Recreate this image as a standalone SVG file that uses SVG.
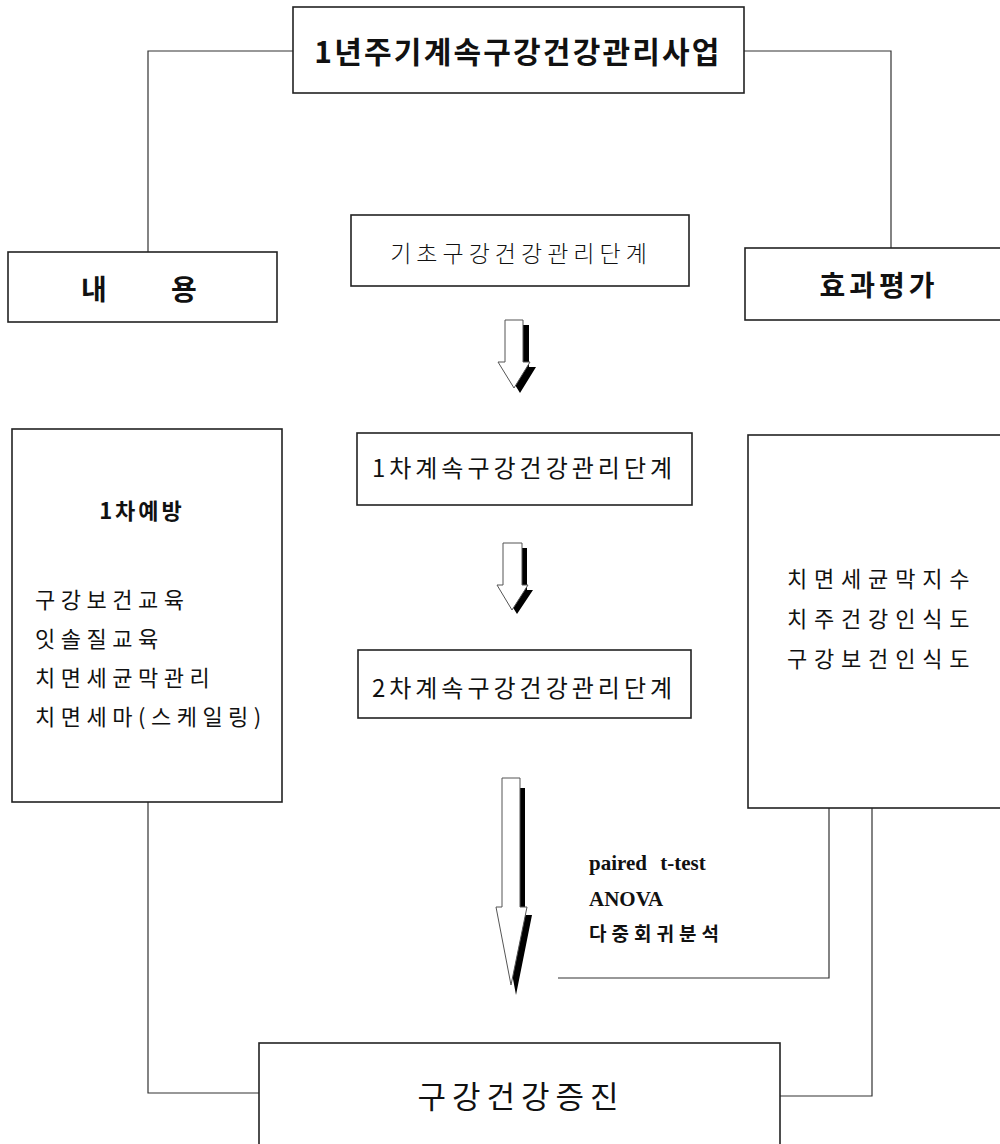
<svg xmlns="http://www.w3.org/2000/svg" width="1000" height="1144" viewBox="0 0 1000 1144">
<style>
.box{fill:#fff;stroke:#222;stroke-width:1.6}
.con{fill:none;stroke:#333;stroke-width:1.2}
.t{font-family:"Noto Sans CJK KR","Noto Sans",sans-serif;fill:#111}
.b{font-weight:bold}
.s{font-family:"Liberation Serif","Noto Sans CJK KR",serif;font-weight:bold;fill:#111}
.ks{font-family:"Noto Sans CJK KR",sans-serif;font-weight:bold;fill:#111}
.sh{fill:#000}
.ar{fill:#fff;stroke:#555;stroke-width:1}
</style>
<rect width="1000" height="1144" fill="#fff"/>
<g id="connectors">
<polyline class="con" points="293,51 148,51 148,252"/>
<polyline class="con" points="744,51 891,51 891,248"/>
<polyline class="con" points="148,802 148,1093 259,1093"/>
<polyline class="con" points="872,808 872,1096 780,1096"/>
<polyline class="con" points="829,808 829,978 558,978"/>
</g>
<g id="arrows">
<g id="arrow1">
<polygon class="sh" points="511,325 529,325 529,367 536,367 520,393 504,367 511,367"/>
<polygon class="ar" points="505,320 523,320 523,362 530,362 514,388 498,362 505,362"/>
</g>
<g id="arrow2">
<polygon class="sh" points="508,548 527,548 527,590 533,590 517,614 502,590 508,590"/>
<polygon class="ar" points="503,543 522,543 522,585 528,585 512,610 497,585 503,585"/>
</g>
<g id="arrow3">
<polygon class="sh" points="507,788 525,788 525,915 532,915 516,995 501,915 507,915"/>
<polygon class="ar" points="502,778 520,778 520,907 527,907 511,985 496,907 502,907"/>
</g>
</g>
<g id="node-top">
<rect class="box" x="293" y="7" width="451" height="86"/>
<text class="t b" x="518" y="63" font-size="30" text-anchor="middle" letter-spacing="2.2">1년주기계속구강건강관리사업</text>
</g>
<g id="node-content">
<rect class="box" x="8" y="252" width="269" height="70"/>
<text class="t b" font-size="28" y="300"><tspan x="81">내</tspan><tspan x="171">용</tspan></text>
</g>
<g id="node-eval">
<rect class="box" x="745" y="248" width="265" height="72"/>
<text class="t b" x="879" y="296" font-size="28" text-anchor="middle" letter-spacing="4">효과평가</text>
</g>
<g id="node-basic">
<rect class="box" x="351" y="215" width="338" height="71"/>
<text class="t" x="521" y="262" font-size="23" text-anchor="middle" letter-spacing="5" font-weight="300">기초구강건강관리단계</text>
</g>
<g id="node-step1">
<rect class="box" x="357" y="433" width="335" height="72"/>
<text class="t" x="524" y="477" font-size="24" text-anchor="middle" letter-spacing="4">1차계속구강건강관리단계</text>
</g>
<g id="node-step2">
<rect class="box" x="358" y="650" width="333" height="68"/>
<text class="t" x="524" y="697" font-size="24" text-anchor="middle" letter-spacing="4">2차계속구강건강관리단계</text>
</g>
<g id="node-prevention">
<rect class="box" x="12" y="429" width="270" height="373"/>
<text class="t b" x="142" y="519" font-size="22" text-anchor="middle" letter-spacing="3">1차예방</text>
<text class="t" font-size="22" letter-spacing="5.5">
<tspan x="35" y="608">구강보건교육</tspan>
<tspan x="35" y="647">잇솔질교육</tspan>
<tspan x="35" y="686">치면세균막관리</tspan>
<tspan x="35" y="725">치면세마(스케일링)</tspan>
</text>
</g>
<g id="node-measures">
<rect class="box" x="748" y="435" width="262" height="373"/>
<text class="t" font-size="22" letter-spacing="6.8">
<tspan x="787" y="587">치면세균막지수</tspan>
<tspan x="787" y="627">치주건강인식도</tspan>
<tspan x="787" y="667">구강보건인식도</tspan>
</text>
</g>
<g id="stats">
<text class="s" x="589" y="870" font-size="21" word-spacing="8">paired t-test</text>
<text class="s" x="589" y="906" font-size="21">ANOVA</text>
<text class="ks" x="589" y="941" font-size="19" letter-spacing="5">다중회귀분석</text>
</g>
<g id="node-bottom">
<rect class="box" x="259" y="1043" width="521" height="130"/>
<text class="t" x="521" y="1108" font-size="31" text-anchor="middle" letter-spacing="6">구강건강증진</text>
</g>
</svg>
